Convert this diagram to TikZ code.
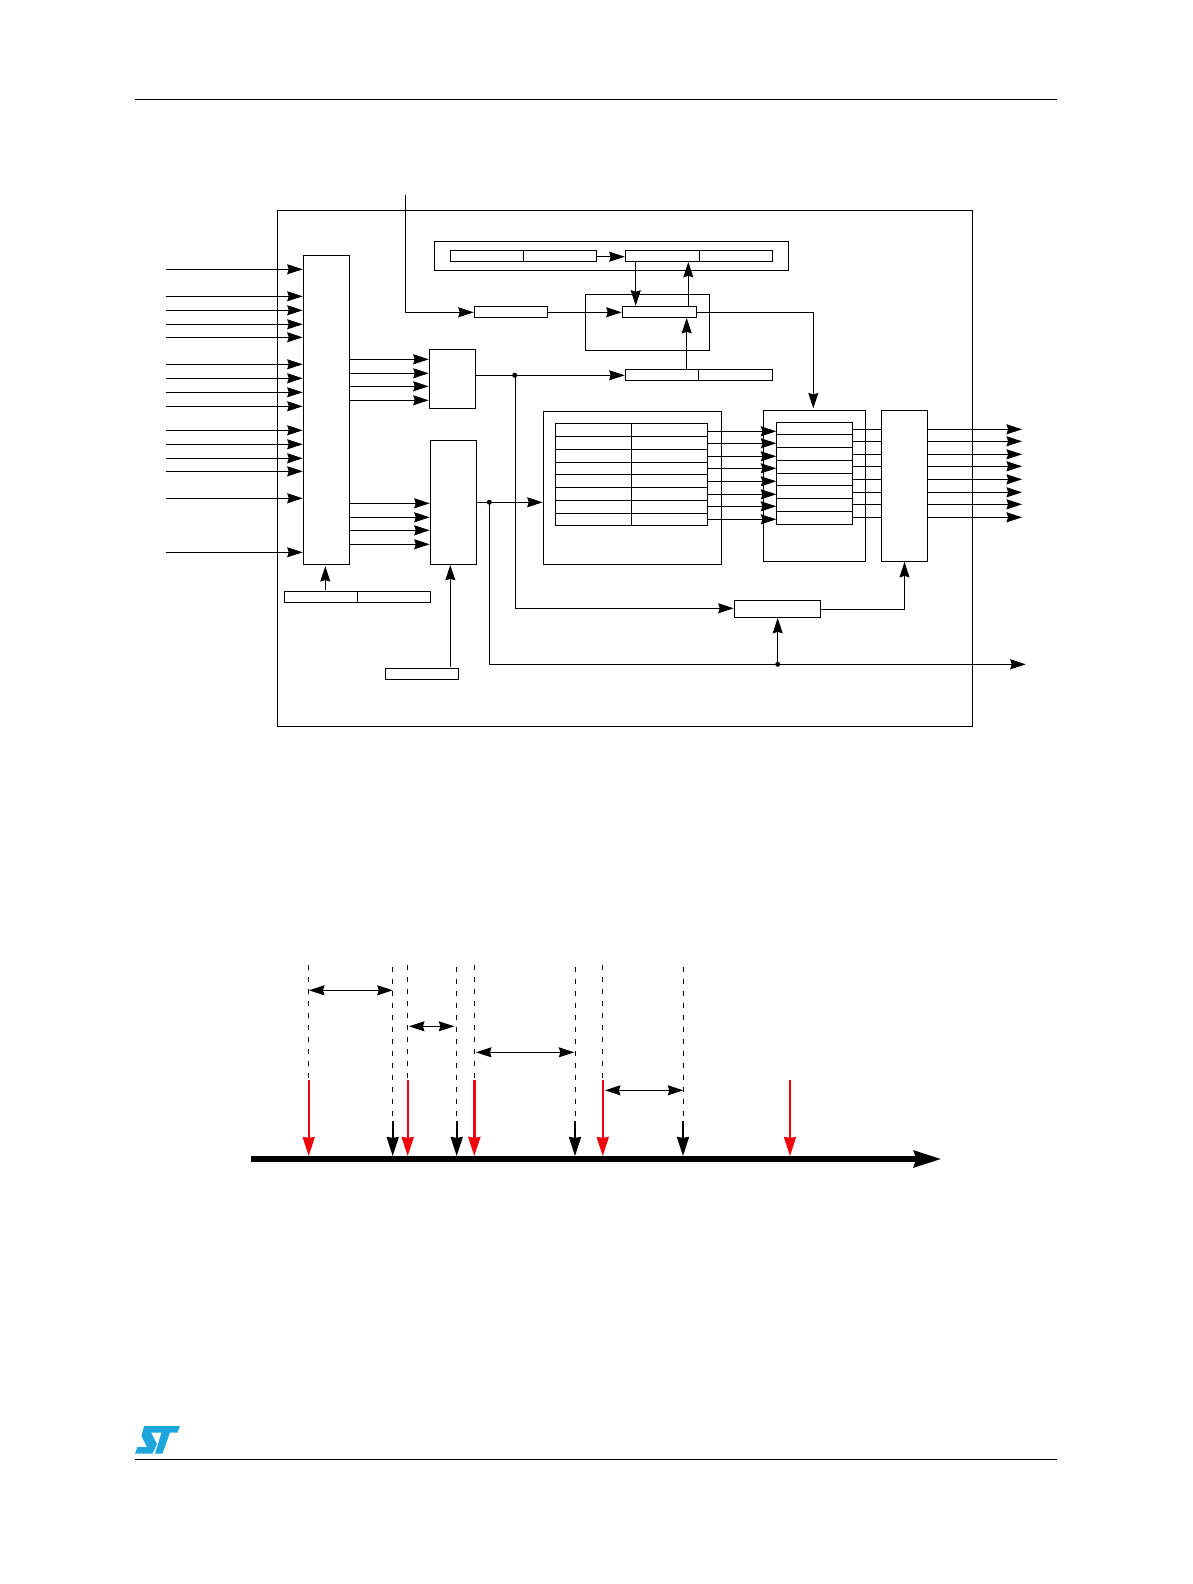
\documentclass[tikz,border=0pt]{standalone}
\usetikzlibrary{arrows.meta}
\definecolor{stblue}{RGB}{30,165,220}
\definecolor{tred}{RGB}{243,0,10}
\tikzset{
  bx/.style={draw=black,line width=1pt,fill=none,inner sep=0pt,outer sep=0pt,rectangle},
  ln/.style={draw=black,line width=1pt},
  hd/.tip={Stealth[length=15.5pt,width=10pt,inset=1.6pt]},
  arr/.style={ln,shorten >=0.6pt,-hd},
  dbl/.style={ln,hd-hd},
  dot/.style={circle,fill=black,draw=none,inner sep=0pt,minimum size=5pt},
  dsh/.style={draw=black,line width=0.9pt,dash pattern=on 5pt off 7pt},
  big/.tip={Stealth[length=19pt,width=12pt,inset=0.8pt]},
  mark red/.style={draw=tred,line width=#1,-big},
  mark black/.style={draw=black,line width=2pt,-big},
  rule/.style={draw=black,line width=0.9pt}
}
\newcommand{\bxn}[5]{\node[bx,minimum width={(#4-#2)*1pt},minimum height={(#5-#3)*1pt}] (#1) at ({(#2+#4)/2},{(#3+#5)/2}) {};}
\begin{document}
\begin{tikzpicture}[x=1pt,y=-1pt]
\useasboundingbox (0,0) rectangle (1192,1584);
% page rules
\coordinate (hl) at (135,99); \coordinate (hr) at (1057,99);
\coordinate (fl) at (135,1459); \coordinate (fr) at (1057,1459);
\draw[rule] (hl) -- (hr);
\draw[rule] (fl) -- (fr);
% logo
\fill[stblue] (144,1426) -- (180,1426) -- (177.5,1432.5) -- (170,1432.5) -- (162.5,1453.5) -- (155,1453.5) -- (161.5,1432.5) -- (151,1432.5) -- (157,1444) -- (152.5,1453.5) -- (135,1453.5) -- (137.5,1447) -- (147,1447) -- (141.5,1436) -- cycle;
% boxes
\bxn{outer}{277.3}{210.3}{972.3}{726.3}
\bxn{mux}{303.3}{255.3}{349.3}{564.3}
\bxn{topw}{434.3}{241.3}{788.3}{270.3}
\bxn{ra1}{450.3}{250.3}{523.3}{261.3}
\bxn{ra2}{523.3}{250.3}{596.3}{261.3}
\bxn{rb1}{625.3}{250.3}{699.3}{261.3}
\bxn{rb2}{699.3}{250.3}{772.7}{261.3}
\bxn{mid}{585.3}{294.3}{709.3}{350.3}
\bxn{rc}{622.3}{306.3}{696.3}{317.3}
\bxn{rr}{474.3}{306.3}{547.3}{317.3}
\bxn{rd1}{625.3}{369.3}{698.3}{380.3}
\bxn{rd2}{698.3}{369.3}{772.7}{380.3}
\bxn{ee}{429.3}{349.3}{475.3}{408.3}
\bxn{ff}{430.3}{440.3}{476.3}{564.3}
\bxn{gg}{734.3}{600.3}{820.3}{617.3}
\bxn{hh}{881.7}{410.3}{927.3}{561.3}
\bxn{ii}{763.3}{410.3}{865.7}{561.3}
\bxn{jj}{776.3}{422.3}{852.3}{524.3}
\bxn{kk}{543.3}{411.3}{721.3}{564.3}
\bxn{ll}{555.3}{423.3}{707.3}{525.3}
\bxn{rm1}{284.3}{591.3}{357.3}{602.3}
\bxn{rm2}{357.3}{591.3}{430.7}{602.3}
\bxn{rn}{385.3}{668.3}{458.3}{679.3}
% table rows
\foreach \y in {434.3,447.3,460.3,473.3,485.3,498.3,511.3} \draw[ln] (jj.west |- 0,\y) -- (jj.east |- 0,\y);
\foreach \y in {436.3,449.3,462.3,474.3,487.3,500.3,513.3} \draw[ln] (ll.west |- 0,\y) -- (ll.east |- 0,\y);
\draw[ln] (631.7,423.3) -- (631.7,525.3);
% inputs to mux
\foreach \y [count=\i] in {269.3,296.3,310.3,324.3,337.3,364.3,378.3,392.3,406.3,430.3,444.3,458.3,471.3,498.3,552.3} {
  \coordinate (in\i) at (166,\y);
  \draw[arr] (in\i) -- (in\i -| mux.west);
}
% mux to E and F
\foreach \y in {359.3,373.3,386.3,400.3} \draw[arr] (mux.east |- 0,\y) -- (ee.west |- 0,\y);
\foreach \y in {503.3,517.3,530.3,544.3} \draw[arr] (mux.east |- 0,\y) -- (ff.west |- 0,\y);
% table to preload, preload to H, H to outputs
\foreach \y in {431.3,443.3,456.3,468.3,481.3,494.3,506.3,519.3} \draw[ln,-hd] (ll.east |- 0,\y) -- (jj.west |- 0,\y);
\foreach \y [count=\i] in {429.3,441.3,454.3,466.3,479.3,492.3,504.3,517.3} {
  \draw[ln] (jj.east |- 0,\y) -- (hh.west |- 0,\y);
  \coordinate (out\i) at (1022,\y);
  \draw[ln,-hd] (hh.east |- out\i) -- (out\i);
}
% top input
\coordinate (tin) at (405.3,195);
\draw[arr] (tin) |- (rr.west |- 0,312.3);
\draw[arr] (rr.east |- 0,312.3) -- (rc.west |- 0,312.3);
\draw[arr] (ra2.east |- 0,256.7) -- (rb1.west |- 0,256.7);
\draw[arr] (635.7,261.3) -- (635.7,306.3);
\draw[arr] (688.3,306.3) -- (688.3,261.3);
\draw[arr] (686.7,369.3) -- (686.7,317.3);
\draw[arr] (rc.east |- 0,312.3) -| (813.3,409);
% E output
\node[dot] (d1) at (514.7,375.3) {};
\draw[arr] (ee.east |- d1) -- (rd1.west |- d1);
\draw[arr] (515.7,375.3) -- (515.7,608.3) -- (gg.west |- 0,608.3);
% F output
\node[dot] (d2) at (489.3,502.3) {};
\draw[arr] (ff.east |- d2) -- (kk.west |- d2);
\node[dot] (d3) at (777.7,664.3) {};
\coordinate (cout) at (1025.7,664.3);
\draw[ln] (d2.center) |- (d3.center);
\draw[ln,-hd] (d3.center) -- (cout);
\draw[arr] (d3.center) -- (gg.south -| d3);
\draw[arr] (gg.east |- 0,609.3) -| (hh.south);
% registers to boxes
\draw[arr] (325.3,590) -- (325.3,565.5);
\draw[arr] (450.3,666.7) -- (450.3,564.3);
% lower diagram
\coordinate (axl) at (251,1159); \coordinate (axr) at (941.7,1159);
\draw[line width=6pt,draw=black,-{Stealth[length=27.4pt,width=16pt,inset=2pt]}] (axl) -- (axr);
\foreach \x/\w [count=\i] in {308.7/2,407.7/2.2,474.3/3,602.7/2.2,790/2} {
  \coordinate (rs\i) at (\x,1080); \coordinate (re\i) at (\x,1156);
  \draw[mark red=\w pt] (rs\i) -- (re\i);
}
\foreach \x [count=\i] in {392.7,456.7,575,683} {
  \coordinate (bs\i) at (\x,1121); \coordinate (be\i) at (\x,1156);
  \draw[mark black] (bs\i) -- (be\i);
}
\foreach \x [count=\i] in {308.7,407.3,474.3,602.3} {
  \coordinate (ta\i) at (\x,965); \coordinate (tb\i) at (\x,1078);
  \draw[dsh] (ta\i) -- (tb\i);
}
\foreach \x [count=\i] in {392.7,456.3,575.3,683.3} {
  \coordinate (ua\i) at (\x,967); \coordinate (ub\i) at (\x,1118);
  \draw[dsh] (ua\i) -- (ub\i);
}
\draw[dbl] (309,990.3) -- (392.7,990.3);
\draw[dbl] (409,1026.3) -- (454.3,1026.3);
\draw[dbl] (476,1052.3) -- (574.3,1052.3);
\draw[dbl] (605,1090.3) -- (683.3,1090.3);
\end{tikzpicture}
\end{document}
